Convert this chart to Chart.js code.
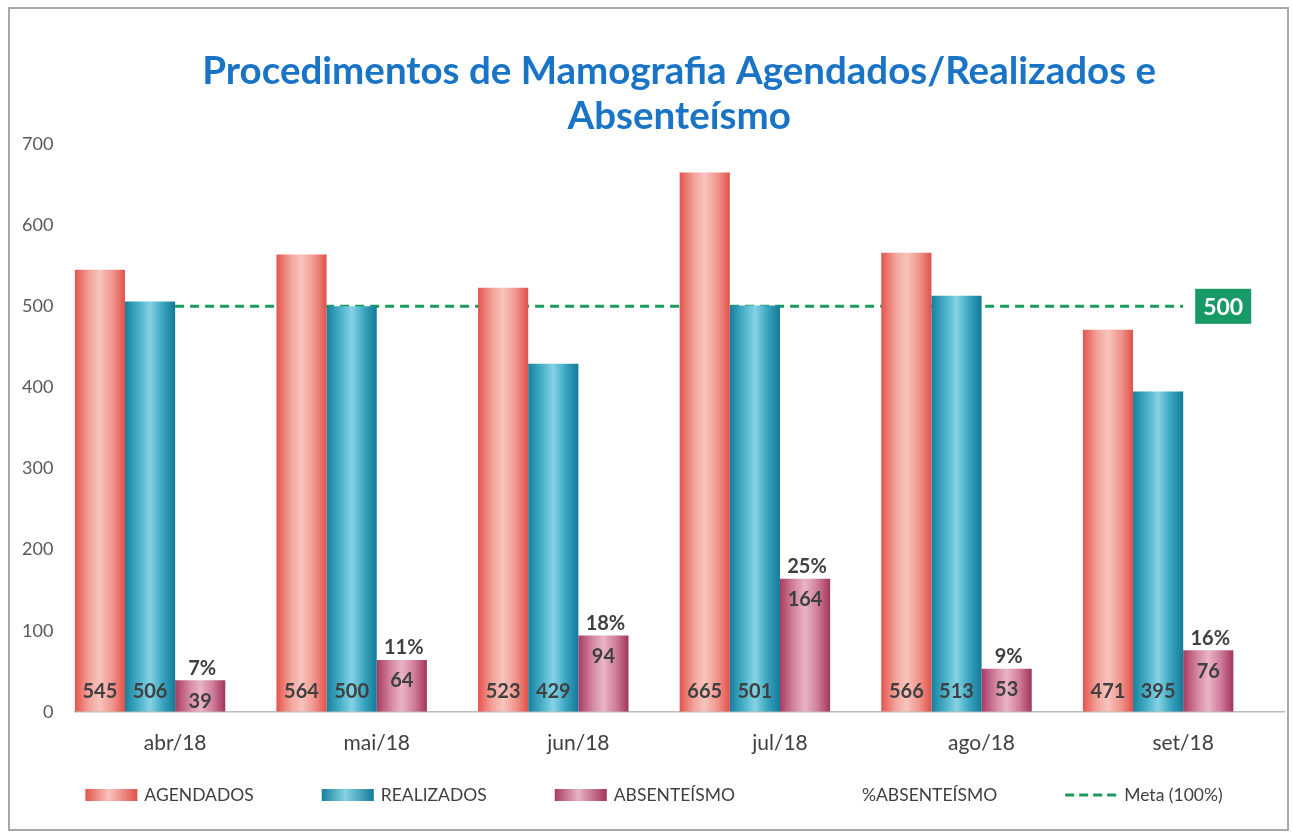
<!DOCTYPE html>
<html>
<head>
<meta charset="utf-8">
<script src="https://cdn.jsdelivr.net/npm/chart.js@4.4.1/dist/chart.umd.min.js"></script>
<style>
  html, body { margin: 0; padding: 0; background: #fff; }
  #wrap { position: relative; width: 1292px; height: 833px; }
  #frame { position: absolute; left: 8px; top: 7px; width: 1277px; height: 820px; border: 2px solid #a8a8a8; pointer-events: none; }
</style>
</head>
<body>
<div id="wrap">
  <canvas id="chart"></canvas>
  <div id="frame"></div>
</div>
<script>
// Data
const labels = ['abr/18', 'mai/18', 'jun/18', 'jul/18', 'ago/18', 'set/18'];
const agendados = [545, 564, 523, 665, 566, 471];
const realizados = [506, 500, 429, 501, 513, 395];
const absenteismo = [39, 64, 94, 164, 53, 76];
const pctAbsenteismo = [7, 11, 18, 25, 9, 16];
const meta = [500, 500, 500, 500, 500, 500];
const yTicks = [0, 100, 200, 300, 400, 500, 600, 700];

const FONT = 'Lato';
const TEXT = '#404040';

// cylinder-like horizontal gradient for each bar
const shades = {
  agendados: ['#e4554d', '#f3a69e', '#f8c4bd', '#f1968e', '#e0514a'],
  realizados: ['#15809d', '#4fb4cc', '#86d3e4', '#3aa5c0', '#127a98'],
  absenteismo: ['#a93a62', '#d68aa6', '#e9b4c6', '#cf7d9b', '#a2345c'],
};

function cylinder(stops) {
  return (c) => {
    const el = c.element;
    if (!el || el.width == null || isNaN(el.x)) return stops[2];
    const g = c.chart.ctx.createLinearGradient(el.x - el.width / 2, 0, el.x + el.width / 2, 0);
    g.addColorStop(0, stops[0]);
    g.addColorStop(0.3, stops[1]);
    g.addColorStop(0.5, stops[2]);
    g.addColorStop(0.75, stops[3]);
    g.addColorStop(1, stops[4]);
    return g;
  };
}

// labels on the bars, plus the meta box
const valueLabels = {
  id: 'valueLabels',
  afterDatasetsDraw(chart) {
    const ctx = chart.ctx;
    ctx.save();
    ctx.font = `bold 20px ${FONT}`;
    ctx.fillStyle = TEXT;
    ctx.textAlign = 'center';
    ctx.textBaseline = 'middle';
    [0, 1].forEach(di => {
      chart.getDatasetMeta(di).data.forEach((bar, i) => {
        ctx.fillText(chart.data.datasets[di].data[i], bar.x, bar.base - 20);
      });
    });
    chart.getDatasetMeta(2).data.forEach((bar, i) => {
      ctx.textBaseline = 'middle';
      ctx.fillText(absenteismo[i], bar.x, bar.y + 21);
      ctx.textBaseline = 'bottom';
      ctx.fillText(pctAbsenteismo[i] + '%', bar.x + 2, bar.y - 2);
    });

    // box with the goal value at the end of the dashed line
    const pts = chart.getDatasetMeta(4).data;
    const last = pts[pts.length - 1];
    const bx = last.x + 12, bw = 56, bh = 35;
    ctx.fillStyle = '#179a66';
    ctx.fillRect(bx, last.y - bh / 2, bw, bh);
    ctx.fillStyle = '#ffffff';
    ctx.font = `bold 23px ${FONT}`;
    ctx.textBaseline = 'middle';
    ctx.fillText(meta[meta.length - 1], bx + bw / 2, last.y + 1);
    ctx.restore();
  }
};

// legend drawn under the axis
const bottomLegend = {
  id: 'bottomLegend',
  afterDraw(chart) {
    const ctx = chart.ctx;
    const sw = 52, gap = 7, space = 68, cy = 795;
    ctx.save();
    ctx.font = `17.5px ${FONT}`;
    const items = chart.data.datasets.map((ds, i) => ({ ds, i, w: sw + gap + ctx.measureText(ds.label).width }));
    const total = items.reduce((s, it) => s + it.w, 0) + space * (items.length - 1);
    let x = chart.width / 2 - total / 2 + 8;
    items.forEach(it => {
      const key = it.ds.shadeKey;
      if (key) {
        const s = shades[key];
        const g = ctx.createLinearGradient(x, 0, x + sw, 0);
        g.addColorStop(0, s[0]); g.addColorStop(0.45, s[2]); g.addColorStop(1, s[4]);
        ctx.fillStyle = g;
        ctx.fillRect(x, cy - 6, sw, 12);
      } else if (it.ds.type === 'line') {
        ctx.strokeStyle = it.ds.borderColor;
        ctx.lineWidth = 3;
        ctx.setLineDash([9, 5]);
        ctx.beginPath();
        ctx.moveTo(x, cy);
        ctx.lineTo(x + sw, cy);
        ctx.stroke();
        ctx.setLineDash([]);
      }
      ctx.fillStyle = TEXT;
      ctx.textAlign = 'left';
      ctx.textBaseline = 'middle';
      ctx.fillText(it.ds.label, x + sw + gap, cy);
      x += it.w + space;
    });
    ctx.restore();
  }
};

const chart = new Chart(document.getElementById('chart'), {
  type: 'bar',
  data: {
    labels: labels,
    datasets: [
      { label: 'AGENDADOS', data: agendados, shadeKey: 'agendados', backgroundColor: cylinder(shades.agendados) },
      { label: 'REALIZADOS', data: realizados, shadeKey: 'realizados', backgroundColor: cylinder(shades.realizados) },
      { label: 'ABSENTEÍSMO', data: absenteismo, shadeKey: 'absenteismo', backgroundColor: cylinder(shades.absenteismo) },
      { label: '%ABSENTEÍSMO', data: pctAbsenteismo, yAxisID: 'yPct', backgroundColor: 'rgba(0,0,0,0)' },
      {
        label: 'Meta (100%)', type: 'line', data: meta, order: 10,
        borderColor: '#1c9a5e', borderWidth: 3, borderDash: [9, 6],
        pointRadius: 0, fill: false
      }
    ]
  },
  options: {
    responsive: true,
    maintainAspectRatio: false,
    animation: false,
    datasets: {
      bar: { categoryPercentage: 0.995, barPercentage: 1, borderWidth: 0 }
    },
    layout: { padding: { left: 9, right: 8, top: 0, bottom: 66 } },
    scales: {
      x: {
        grid: { display: false },
        border: { display: true, color: '#bdbdbd', width: 1.5 },
        ticks: { color: TEXT, font: { family: FONT, size: 21 }, padding: 11 }
      },
      y: {
        min: 0,
        max: 700,
        afterBuildTicks: (axis) => { axis.ticks = yTicks.map(v => ({ value: v })); },
        grid: { display: false },
        border: { display: false },
        ticks: { color: '#595959', font: { family: FONT, size: 18 }, padding: 13 }
      },
      yPct: { display: false, min: 0, max: 100 }
    },
    plugins: {
      legend: { display: false },
      tooltip: { enabled: false },
      title: {
        display: true,
        fullSize: false,
        text: ['Procedimentos de Mamografia Agendados/Realizados e', 'Absenteísmo'],
        color: '#1a74c6',
        font: { family: FONT, size: 38.5, weight: 'bold', lineHeight: 1.17 },
        padding: { top: 49, bottom: 5 }
      }
    }
  },
  plugins: [valueLabels, bottomLegend]
});
// second pass so the bar gradients can use the bar geometry
chart.update();
</script>
</body>
</html>
